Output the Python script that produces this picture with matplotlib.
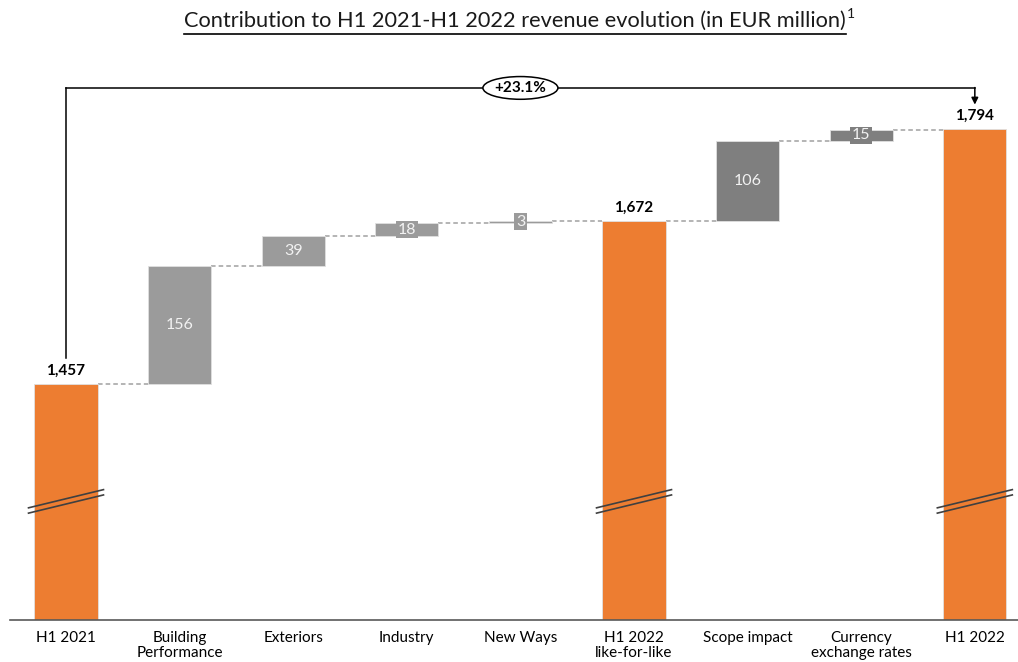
import numpy as np
import matplotlib.pyplot as plt
from matplotlib.patches import Ellipse

plt.rcParams['font.family'] = ['Lato', 'DejaVu Sans']

# data
categories = ["H1 2021", "Building\nPerformance", "Exteriors", "Industry", "New Ways",
              "H1 2022\nlike-for-like", "Scope impact", "Currency\nexchange rates", "H1 2022"]
start_value = 1457
lfl_changes = [156, 39, 18, 3]
lfl_total = 1672
other_changes = [106, 15]
end_value = 1794
growth_label = "+23.1%"
title = "Contribution to H1 2021-H1 2022 revenue evolution (in EUR million)"

orange = "#ED7D31"
light_gray = "#9B9B9B"
dark_gray = "#7F7F7F"

# build waterfall
bottoms, heights, colors, kinds = [], [], [], []
bottoms.append(0); heights.append(start_value); colors.append(orange); kinds.append("total")
level = start_value
for c in lfl_changes:
    bottoms.append(level); heights.append(c); colors.append(light_gray); kinds.append("delta")
    level += c
bottoms.append(0); heights.append(lfl_total); colors.append(orange); kinds.append("total")
level = lfl_total
for c in other_changes:
    bottoms.append(level); heights.append(c); colors.append(dark_gray); kinds.append("delta")
    level += c
bottoms.append(0); heights.append(end_value); colors.append(orange); kinds.append("total")

x = np.arange(len(categories))
W = 0.555
ymin, ymax = 1146, 1964

fig = plt.figure(figsize=(10.18, 6.62), dpi=100)
ax = fig.add_axes([10 / 1018, 42 / 662, 1008 / 1018, 620 / 662])
ax.set_xlim(-0.493, 8.38)
ax.set_ylim(ymin, ymax)

ax.bar(x, heights, bottom=bottoms, width=W, color=colors, edgecolor="#E0E0E0", linewidth=0.6, zorder=2)

# connectors
tops = [b + h for b, h in zip(bottoms, heights)]
for i in range(len(x) - 1):
    ax.plot([x[i] + W / 2, x[i + 1] - W / 2], [tops[i], tops[i]], color="#A0A0A0",
            lw=1.1, ls=(0, (3, 2)), zorder=1)

# labels
for i in range(len(x)):
    if kinds[i] == "total":
        ax.text(x[i], tops[i] + 8, f"{heights[i]:,}", ha="center", va="bottom",
                fontsize=11, fontweight="bold", color="black")
    else:
        ax.text(x[i], bottoms[i] + heights[i] / 2, f"{heights[i]}", ha="center", va="center",
                fontsize=11.5, color="#F2F2F2", zorder=3,
                bbox=dict(facecolor=colors[i], edgecolor="none", pad=1.2))

# break marks on total bars
for i in range(len(x)):
    if kinds[i] == "total":
        x0, x1 = x[i] - 0.33, x[i] + 0.33
        ax.plot([x0, x1], [1294, 1318], color="#404040", lw=1.2, zorder=4)
        ax.plot([x0, x1], [1287, 1311], color="#404040", lw=1.2, zorder=4)

# growth bracket
yb = 1848
ax.plot([x[0], x[0]], [1492, yb], color="black", lw=1.1)
ax.plot([x[0], x[-1]], [yb, yb], color="black", lw=1.1)
ax.annotate("", xy=(x[-1], 1826), xytext=(x[-1], yb + 0.5),
            arrowprops=dict(arrowstyle="-|>", color="black", lw=1.1, mutation_scale=10,
                            shrinkA=0, shrinkB=0))
xm = (x[0] + x[-1]) / 2
ax.add_patch(Ellipse((xm, yb), 0.66, 30, facecolor="white", edgecolor="black", lw=1.1, zorder=5))
ax.text(xm, yb, growth_label, ha="center", va="center", fontsize=11, fontweight="bold", zorder=6)

# axes styling
for s in ["top", "right", "left"]:
    ax.spines[s].set_visible(False)
ax.spines["bottom"].set_color("#595959")
ax.spines["bottom"].set_linewidth(1.2)
ax.set_yticks([])
ax.set_xticks(x)
ax.set_xticklabels(categories, fontsize=11, linespacing=1.05)
ax.tick_params(axis="x", length=0, pad=8)

# title with underline and superscript
t = fig.text(515 / 1018, 1 - 21 / 662, title, ha="center", va="center", fontsize=15.7,
             color="#1A1A1A")
fig.canvas.draw()
bb = t.get_window_extent().transformed(fig.transFigure.inverted())
fig.text(bb.x1 + 0.001, bb.y1 - 0.004, "1", fontsize=10, ha="left", va="center", color="#1A1A1A")
fig.add_artist(plt.Line2D([bb.x0, bb.x1], [bb.y0 - 0.004, bb.y0 - 0.004],
                          transform=fig.transFigure, color="black", lw=1.2))

fig.savefig("out.png", dpi=100)
